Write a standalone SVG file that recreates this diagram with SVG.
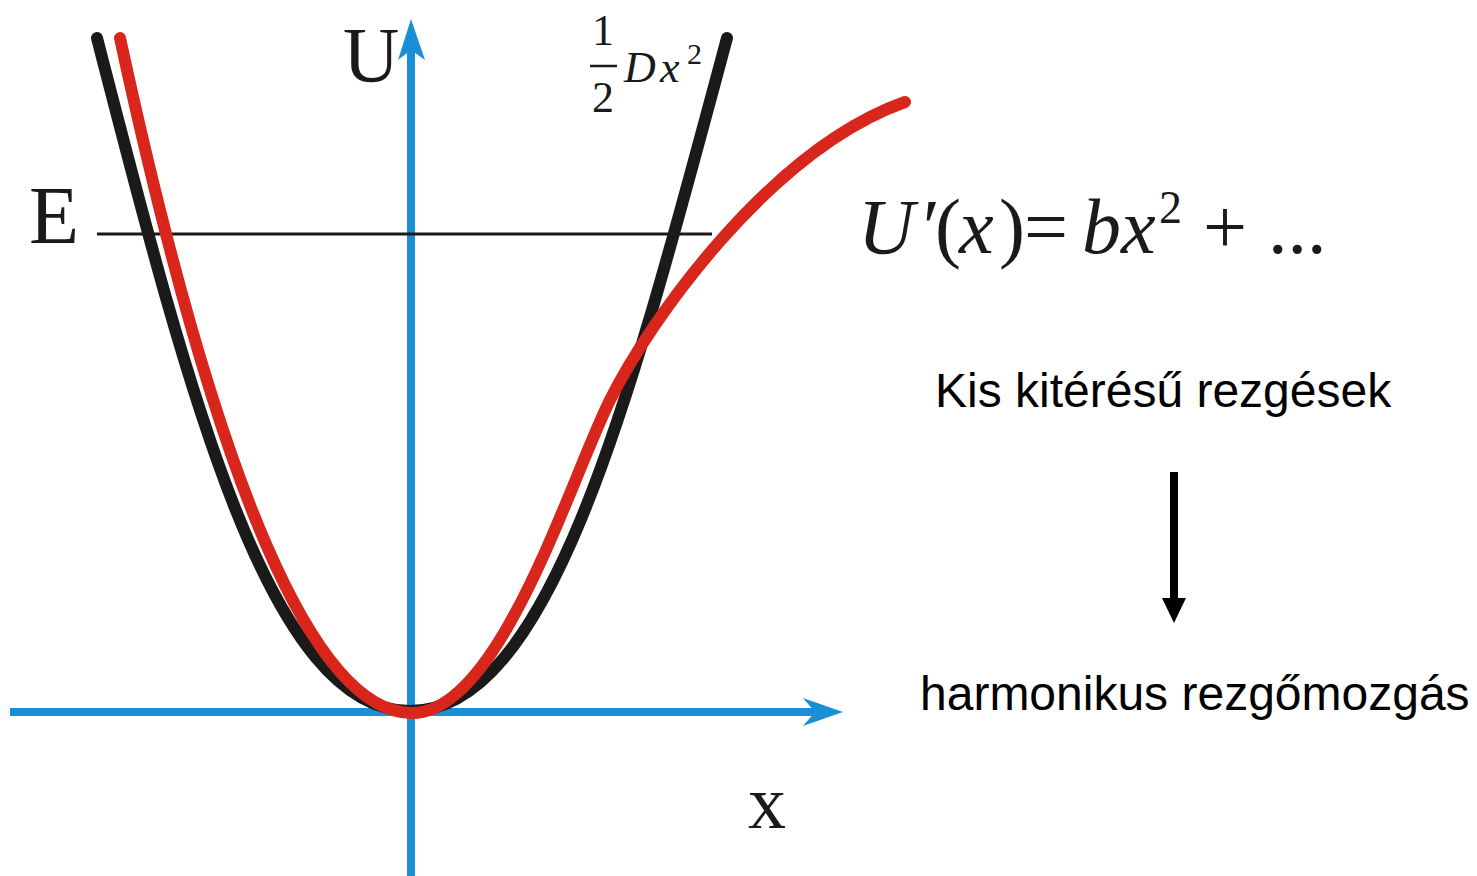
<svg xmlns="http://www.w3.org/2000/svg" width="1477" height="876" viewBox="0 0 1477 876">
<style>
.axis{stroke:#1b8fd6;stroke-width:8;fill:none}
.ahead{fill:#1b8fd6}
.serif{font-family:"Liberation Serif","Times New Roman",serif;fill:#1a1a1a}
.sans{font-family:"Liberation Sans",Arial,sans-serif;fill:#000;font-size:48px}
.it{font-style:italic}
</style>
<rect width="1477" height="876" fill="#fff"/>
<g id="axes">
<line class="axis" x1="10" y1="712" x2="820" y2="712"/>
<polygon class="ahead" points="843,712 803,698 815,712 803,726"/>
<line class="axis" x1="411" y1="876" x2="411" y2="45"/>
<polygon class="ahead" points="411,19 398,60 411,50 425,60"/>
</g>
<g id="energy-line">
<line x1="97" y1="234" x2="712" y2="234" stroke="#1a1a1a" stroke-width="3"/>
</g>
<g id="parabola">
<path d="M97 38 C190 400 270 711 410 711 C550 711 630 400 727 38" fill="none" stroke="#1a1a1a" stroke-width="12" stroke-linecap="round"/>
</g>
<g id="potential">
<path d="M120 38 Q266 713 412 713 C500 713 570 480 610 400 C650 320 770 150 905 102" fill="none" stroke="#d9261c" stroke-width="12" stroke-linecap="round"/>
</g>
<g id="labels">
<text class="serif" x="343" y="81" font-size="78">U</text>
<text class="serif" x="29" y="243" font-size="82">E</text>
<text class="serif" x="748" y="828" font-size="76">x</text>
</g>
<g id="approx-label" class="serif">
<text x="603" y="45" font-size="44" text-anchor="middle">1</text>
<line x1="590" y1="66" x2="617" y2="66" stroke="#1a1a1a" stroke-width="2.5"/>
<text x="603" y="112" font-size="44" text-anchor="middle">2</text>
<text x="624" y="82" font-size="44" class="it">D</text>
<text x="660" y="82" font-size="44" class="it">x</text>
<text x="687" y="64" font-size="30">2</text>
</g>
<g id="formula" class="serif" font-size="78">
<text x="858" y="253" class="it">U</text>
<text x="918" y="253" class="it">′</text>
<text x="935" y="253">(</text>
<text x="959" y="253" class="it">x</text>
<text x="999" y="253">)</text>
<text x="1024" y="253">=</text>
<text x="1082" y="253" class="it">b</text>
<text x="1121" y="253" class="it">x</text>
<text x="1159" y="223" font-size="46">2</text>
<text x="1203" y="253">+</text>
<text x="1268" y="253">...</text>
</g>
<g id="text1"><text class="sans" x="935" y="407">Kis kitérésű rezgések</text></g>
<g id="arrow">
<line x1="1174" y1="472" x2="1174" y2="600" stroke="#000" stroke-width="8"/>
<polygon points="1162,598 1186,598 1174,623" fill="#000"/>
</g>
<g id="text2"><text class="sans" x="920" y="710">harmonikus rezgőmozgás</text></g>
</svg>
